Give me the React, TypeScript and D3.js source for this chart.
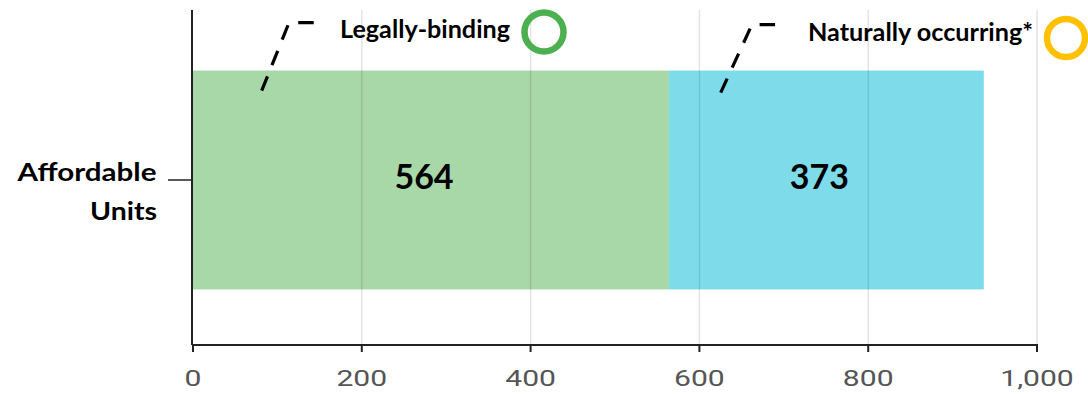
import React from "react";
import * as d3 from "d3";

const categories = ["Affordable Units"];
const seriesNames = ["Legally-binding", "Naturally occurring*"];
const legallyBinding = [564];
const naturallyOccurring = [373];
const seriesColors = ["#A8D8A8", "#7EDCEA"];
const ringColors = ["#4CAF50", "#FFC000"];
const xTicks = [0, 200, 400, 600, 800, 1000];

const W = 1088;
const H = 394;
const left = 193;
const right = 1037;
const top = 10;
const bottom = 345;

export default function App() {
  const x = d3.scaleLinear().domain([0, 1000]).range([left, right]);
  const y = d3.scaleBand().domain(categories).range([15, bottom]).paddingInner(0.33).paddingOuter(0.17);
  const fmt = d3.format(",");
  const stacked = categories.map((c, i) => {
    const vals = [legallyBinding[i], naturallyOccurring[i]];
    let acc = 0;
    return vals.map((v, k) => {
      const s = { cat: c, x0: acc, x1: acc + v, v, k };
      acc += v;
      return s;
    });
  });
  const bw = y.bandwidth();
  return (
    <svg width={W} height={H} style={{ position: "absolute", left: 0, top: 0, background: "#fff" }}>
      {stacked.flat().map((s, j) => (
        <rect key={j} x={x(s.x0)} y={y(s.cat)} width={x(s.x1) - x(s.x0)} height={bw} fill={seriesColors[s.k]} />
      ))}
      {xTicks.slice(1).map((t) => (
        <line key={t} x1={x(t)} x2={x(t)} y1={top} y2={bottom} stroke="rgba(0,0,0,0.11)" strokeWidth={1.5} />
      ))}
      {stacked.flat().map((s, j) => (
        <text key={"v" + j} x={(x(s.x0) + x(s.x1)) / 2 - 7} y={(y(s.cat) as number) + bw / 2 + 9} textAnchor="middle"
          fontFamily="Lato, 'Open Sans', sans-serif" fontWeight="bold" fontSize={34} fill="#000">{s.v}</text>
      ))}
      {/* axes */}
      <line x1={left - 1} x2={left - 1} y1={top} y2={bottom} stroke="#222" strokeWidth={2} />
      <line x1={left - 1} x2={right + 1} y1={bottom} y2={bottom} stroke="#222" strokeWidth={2} />
      {xTicks.map((t) => (
        <g key={"t" + t}>
          <line x1={x(t)} x2={x(t)} y1={bottom} y2={bottom + 7} stroke="#222" strokeWidth={2} />
          <text transform={`translate(${x(t)},386) scale(1.4,1)`} textAnchor="middle" fontFamily="Roboto, sans-serif" fontSize={21.5} fill="#555">{fmt(t)}</text>
        </g>
      ))}
      {categories.map((c) => {
        const cy = (y(c) as number) + bw / 2;
        const words = c.split(" ");
        return (
          <g key={c}>
            <line x1={168} x2={left - 1} y1={cy} y2={cy} stroke="#222" strokeWidth={1.5} />
            <text x={17.5} y={181} fontFamily="Lato, sans-serif" fontWeight="bold" fontSize={25} fill="#000" textLength={139} lengthAdjust="spacingAndGlyphs">{words[0]}</text>
            <text x={90} y={220} fontFamily="Lato, sans-serif" fontWeight="bold" fontSize={25} fill="#000" textLength={67} lengthAdjust="spacingAndGlyphs">{words[1]}</text>
          </g>
        );
      })}
      {/* legend with dashed leader lines */}
      <polyline points="261.7,90.7 289,22.7 315,22.7" fill="none" stroke="#000" strokeWidth={3.2} strokeDasharray="15.5 12" />
      <polyline points="720.7,92.7 751.9,24.7 777,24.7" fill="none" stroke="#000" strokeWidth={3.2} strokeDasharray="15.5 12" />
      <text x={340} y={38} fontFamily="Lato, sans-serif" fontWeight="bold" fontSize={24} fill="#000" textLength={170} lengthAdjust="spacingAndGlyphs">{seriesNames[0]}</text>
      <circle cx={544} cy={32} r={19.5} fill="none" stroke={ringColors[0]} strokeWidth={6.5} />
      <text x={808} y={41} fontFamily="Lato, sans-serif" fontWeight="bold" fontSize={24} fill="#000" textLength={225} lengthAdjust="spacingAndGlyphs">{seriesNames[1]}</text>
      <circle cx={1066} cy={38} r={19} fill="none" stroke={ringColors[1]} strokeWidth={6.5} />
    </svg>
  );
}
